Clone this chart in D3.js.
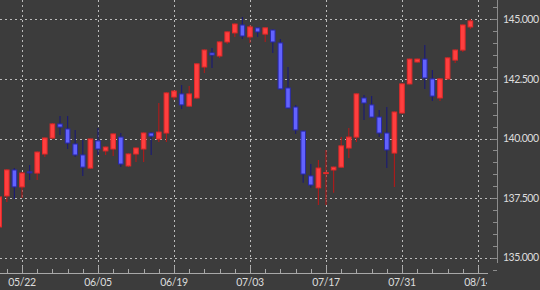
<!DOCTYPE html>
<html>
<head>
<meta charset="utf-8">
<script src="https://cdn.jsdelivr.net/npm/d3@7/dist/d3.min.js"></script>
<style>
	body { margin: 0; background: #3c3c3c; }
	svg { display: block; }
	text { font-family: Lato, "DejaVu Sans", sans-serif; font-size: 10.5px; fill: #dcdcdc; }
</style>
</head>
<body>
<div id="chart"></div>
<script>
// trading days (last one is only a tick label)
var dates = ["05/17","05/18","05/19","05/22","05/23","05/24","05/25","05/26","05/29","05/30",
	"05/31","06/01","06/02","06/05","06/06","06/07","06/08","06/09","06/12","06/13",
	"06/14","06/15","06/16","06/19","06/20","06/21","06/22","06/23","06/26","06/27",
	"06/28","06/29","06/30","07/03","07/04","07/05","07/06","07/07","07/10","07/11",
	"07/12","07/13","07/14","07/17","07/18","07/19","07/20","07/21","07/24","07/25",
	"07/26","07/27","07/28","07/31","08/01","08/02","08/03","08/04","08/07","08/08",
	"08/09","08/10","08/11","08/14"];

var open = [136.29,137.59,138.68,137.97,138.60,138.55,139.35,140.02,140.61,140.40,
	139.77,139.31,138.76,139.90,139.48,139.56,140.06,138.85,139.35,139.56,
	140.23,139.98,140.23,141.74,141.87,141.36,141.70,143.00,143.59,143.46,
	144.05,144.43,144.76,144.26,144.64,144.38,144.55,144.01,142.12,141.32,
	140.31,138.43,137.93,138.53,138.68,138.80,139.60,140.06,141.70,141.41,
	140.90,140.23,139.39,141.07,142.29,143.21,143.33,142.50,141.70,142.50,
	143.29,143.71,144.68];
var high = [137.62,138.72,138.76,138.60,138.89,139.47,140.05,140.65,140.94,140.94,
	140.36,139.94,140.00,140.44,139.66,140.22,140.23,139.38,139.62,140.26,
	140.27,141.49,141.95,142.02,142.24,142.20,143.16,143.74,143.80,144.08,
	144.50,144.83,145.10,144.76,144.66,144.66,144.58,144.17,143.00,141.41,
	140.34,138.93,139.10,139.52,138.83,140.06,140.44,141.90,141.82,141.78,
	141.20,141.32,141.14,142.32,143.36,143.36,143.92,142.87,142.53,143.41,
	143.74,144.79,145.01];
var low = [136.20,137.34,137.46,137.50,138.26,138.26,139.22,139.97,140.15,139.56,
	139.22,138.43,138.72,139.31,139.31,139.27,138.80,138.80,139.01,139.01,
	139.31,139.85,139.85,141.61,141.24,141.33,141.66,142.75,142.96,143.38,
	143.96,144.26,144.17,144.01,144.26,144.05,143.59,142.05,141.25,140.19,
	138.14,137.93,137.21,137.21,137.72,138.77,139.18,139.85,140.78,140.86,
	140.06,138.76,137.97,141.04,142.26,143.18,142.08,141.57,141.57,142.47,
	143.17,143.63,144.59];
var close = [137.55,138.68,137.97,138.55,138.58,139.43,140.02,140.61,140.48,139.81,
	139.31,138.80,139.98,139.56,139.64,140.19,138.93,139.35,139.60,140.23,
	140.10,140.27,141.91,141.99,141.41,141.87,143.13,143.71,143.50,144.05,
	144.47,144.80,144.30,144.68,144.47,144.64,144.05,142.08,141.28,140.36,
	138.51,138.05,138.76,138.57,138.80,139.69,140.06,141.87,141.49,140.90,
	140.23,139.52,141.11,142.29,143.33,143.33,142.54,141.78,142.50,143.38,
	143.71,144.76,144.93];

var xTickIdx = [3, 13, 23, 33, 43, 53, 63];
var yTicks = [135, 137.5, 140, 142.5, 145];

var W = 540, H = 290;
var plotRight = 488, axisX = 497, plotBottom = 263, xAxisY = 273;

var svg = d3.select("#chart").append("svg")
	.attr("width", W)
	.attr("height", H);

svg.append("rect").attr("width", W).attr("height", H).attr("fill", "#3c3c3c");

var x = d3.scaleLinear().domain([0, 63]).range([-0.8, 478]);
var y = d3.scaleLinear().domain([135, 145]).range([257.7, 19.3]);

var defs = svg.append("defs");
defs.append("clipPath").attr("id", "plotClip")
	.append("rect").attr("x", 0).attr("y", 0).attr("width", plotRight).attr("height", plotBottom);
defs.append("clipPath").attr("id", "labelClip")
	.append("rect").attr("x", 0).attr("y", 0).attr("width", plotRight - 1).attr("height", H);

//grid
var grid = svg.append("g");
grid.selectAll(".hgrid").data(yTicks).enter().append("line")
	.attr("x1", 0).attr("x2", axisX - 4)
	.attr("y1", function(d){ return Math.round(y(d)) + 0.5; })
	.attr("y2", function(d){ return Math.round(y(d)) + 0.5; })
	.attr("stroke", "#bcbcbc").attr("stroke-width", 1)
	.attr("stroke-dasharray", "2,3");
grid.selectAll(".vgrid").data(xTickIdx).enter().append("line")
	.attr("x1", function(d){ return Math.round(x(d)) + 0.5; })
	.attr("x2", function(d){ return Math.round(x(d)) + 0.5; })
	.attr("y1", 0).attr("y2", xAxisY)
	.attr("stroke", "#bcbcbc").attr("stroke-width", 1)
	.attr("stroke-dasharray", "2,3");

//candles
var idx = d3.range(open.length);
var candles = svg.append("g").attr("clip-path", "url(#plotClip)");
var bw = 4.6;

candles.selectAll(".wick").data(idx).enter().append("line")
	.attr("x1", function(i){ return x(i); })
	.attr("x2", function(i){ return x(i); })
	.attr("y1", function(i){ return y(high[i]); })
	.attr("y2", function(i){ return y(low[i]); })
	.attr("stroke", function(i){ return close[i] >= open[i] ? "#a81c1c" : "#1c1c70"; })
	.attr("stroke-width", 1.2);

candles.selectAll(".body").data(idx).enter().append("rect")
	.attr("x", function(i){ return x(i) - bw / 2; })
	.attr("y", function(i){ return y(Math.max(open[i], close[i])); })
	.attr("width", bw)
	.attr("height", function(i){ return Math.max(1, Math.abs(y(open[i]) - y(close[i]))); })
	.attr("fill", function(i){ return close[i] >= open[i] ? "#ff3f3f" : "#6262ff"; })
	.attr("stroke", function(i){ return close[i] >= open[i] ? "#e02a2a" : "#2a2aa8"; })
	.attr("stroke-width", 1);

//y axis
var yAxis = svg.append("g");
yAxis.append("line")
	.attr("x1", axisX + 0.5).attr("x2", axisX + 0.5)
	.attr("y1", 0).attr("y2", plotBottom)
	.attr("stroke", "#8c8c8c");
var yMinor = d3.range(134.5, 145.75, 0.5);
yAxis.selectAll(".ytick").data(yMinor).enter().append("line")
	.attr("x1", function(d){ return (d % 2.5 == 0) ? axisX - 6 : axisX - 4; })
	.attr("x2", axisX)
	.attr("y1", function(d){ return Math.round(y(d)) + 0.5; })
	.attr("y2", function(d){ return Math.round(y(d)) + 0.5; })
	.attr("stroke", "#8c8c8c");
yAxis.selectAll(".ylabel").data(yTicks).enter().append("text")
	.attr("x", axisX + 6)
	.attr("y", function(d){ return y(d); })
	.attr("dy", "0.35em")
	.style("letter-spacing", "-0.5px")
	.text(function(d){ return d3.format(".3f")(d); });

//x axis
var xAxis = svg.append("g");
xAxis.append("line")
	.attr("x1", 0).attr("x2", plotRight)
	.attr("y1", xAxisY + 0.5).attr("y2", xAxisY + 0.5)
	.attr("stroke", "#a8a8a8");
var xMinor = d3.range(1, 64, 2);
xAxis.selectAll(".xtick").data(xMinor).enter().append("line")
	.attr("x1", function(d){ return Math.round(x(d)) + 0.5; })
	.attr("x2", function(d){ return Math.round(x(d)) + 0.5; })
	.attr("y1", function(d){ return xTickIdx.indexOf(d) >= 0 ? xAxisY - 7 : xAxisY - 4; })
	.attr("y2", xAxisY)
	.attr("stroke", "#a8a8a8");
xAxis.append("g").attr("clip-path", "url(#labelClip)")
	.selectAll(".xlabel").data(xTickIdx).enter().append("text")
	.attr("x", function(d){ return x(d); })
	.attr("y", xAxisY + 13)
	.attr("text-anchor", "middle")
	.style("letter-spacing", "-0.3px")
	.text(function(d){ return dates[d]; });
</script>
</body>
</html>
